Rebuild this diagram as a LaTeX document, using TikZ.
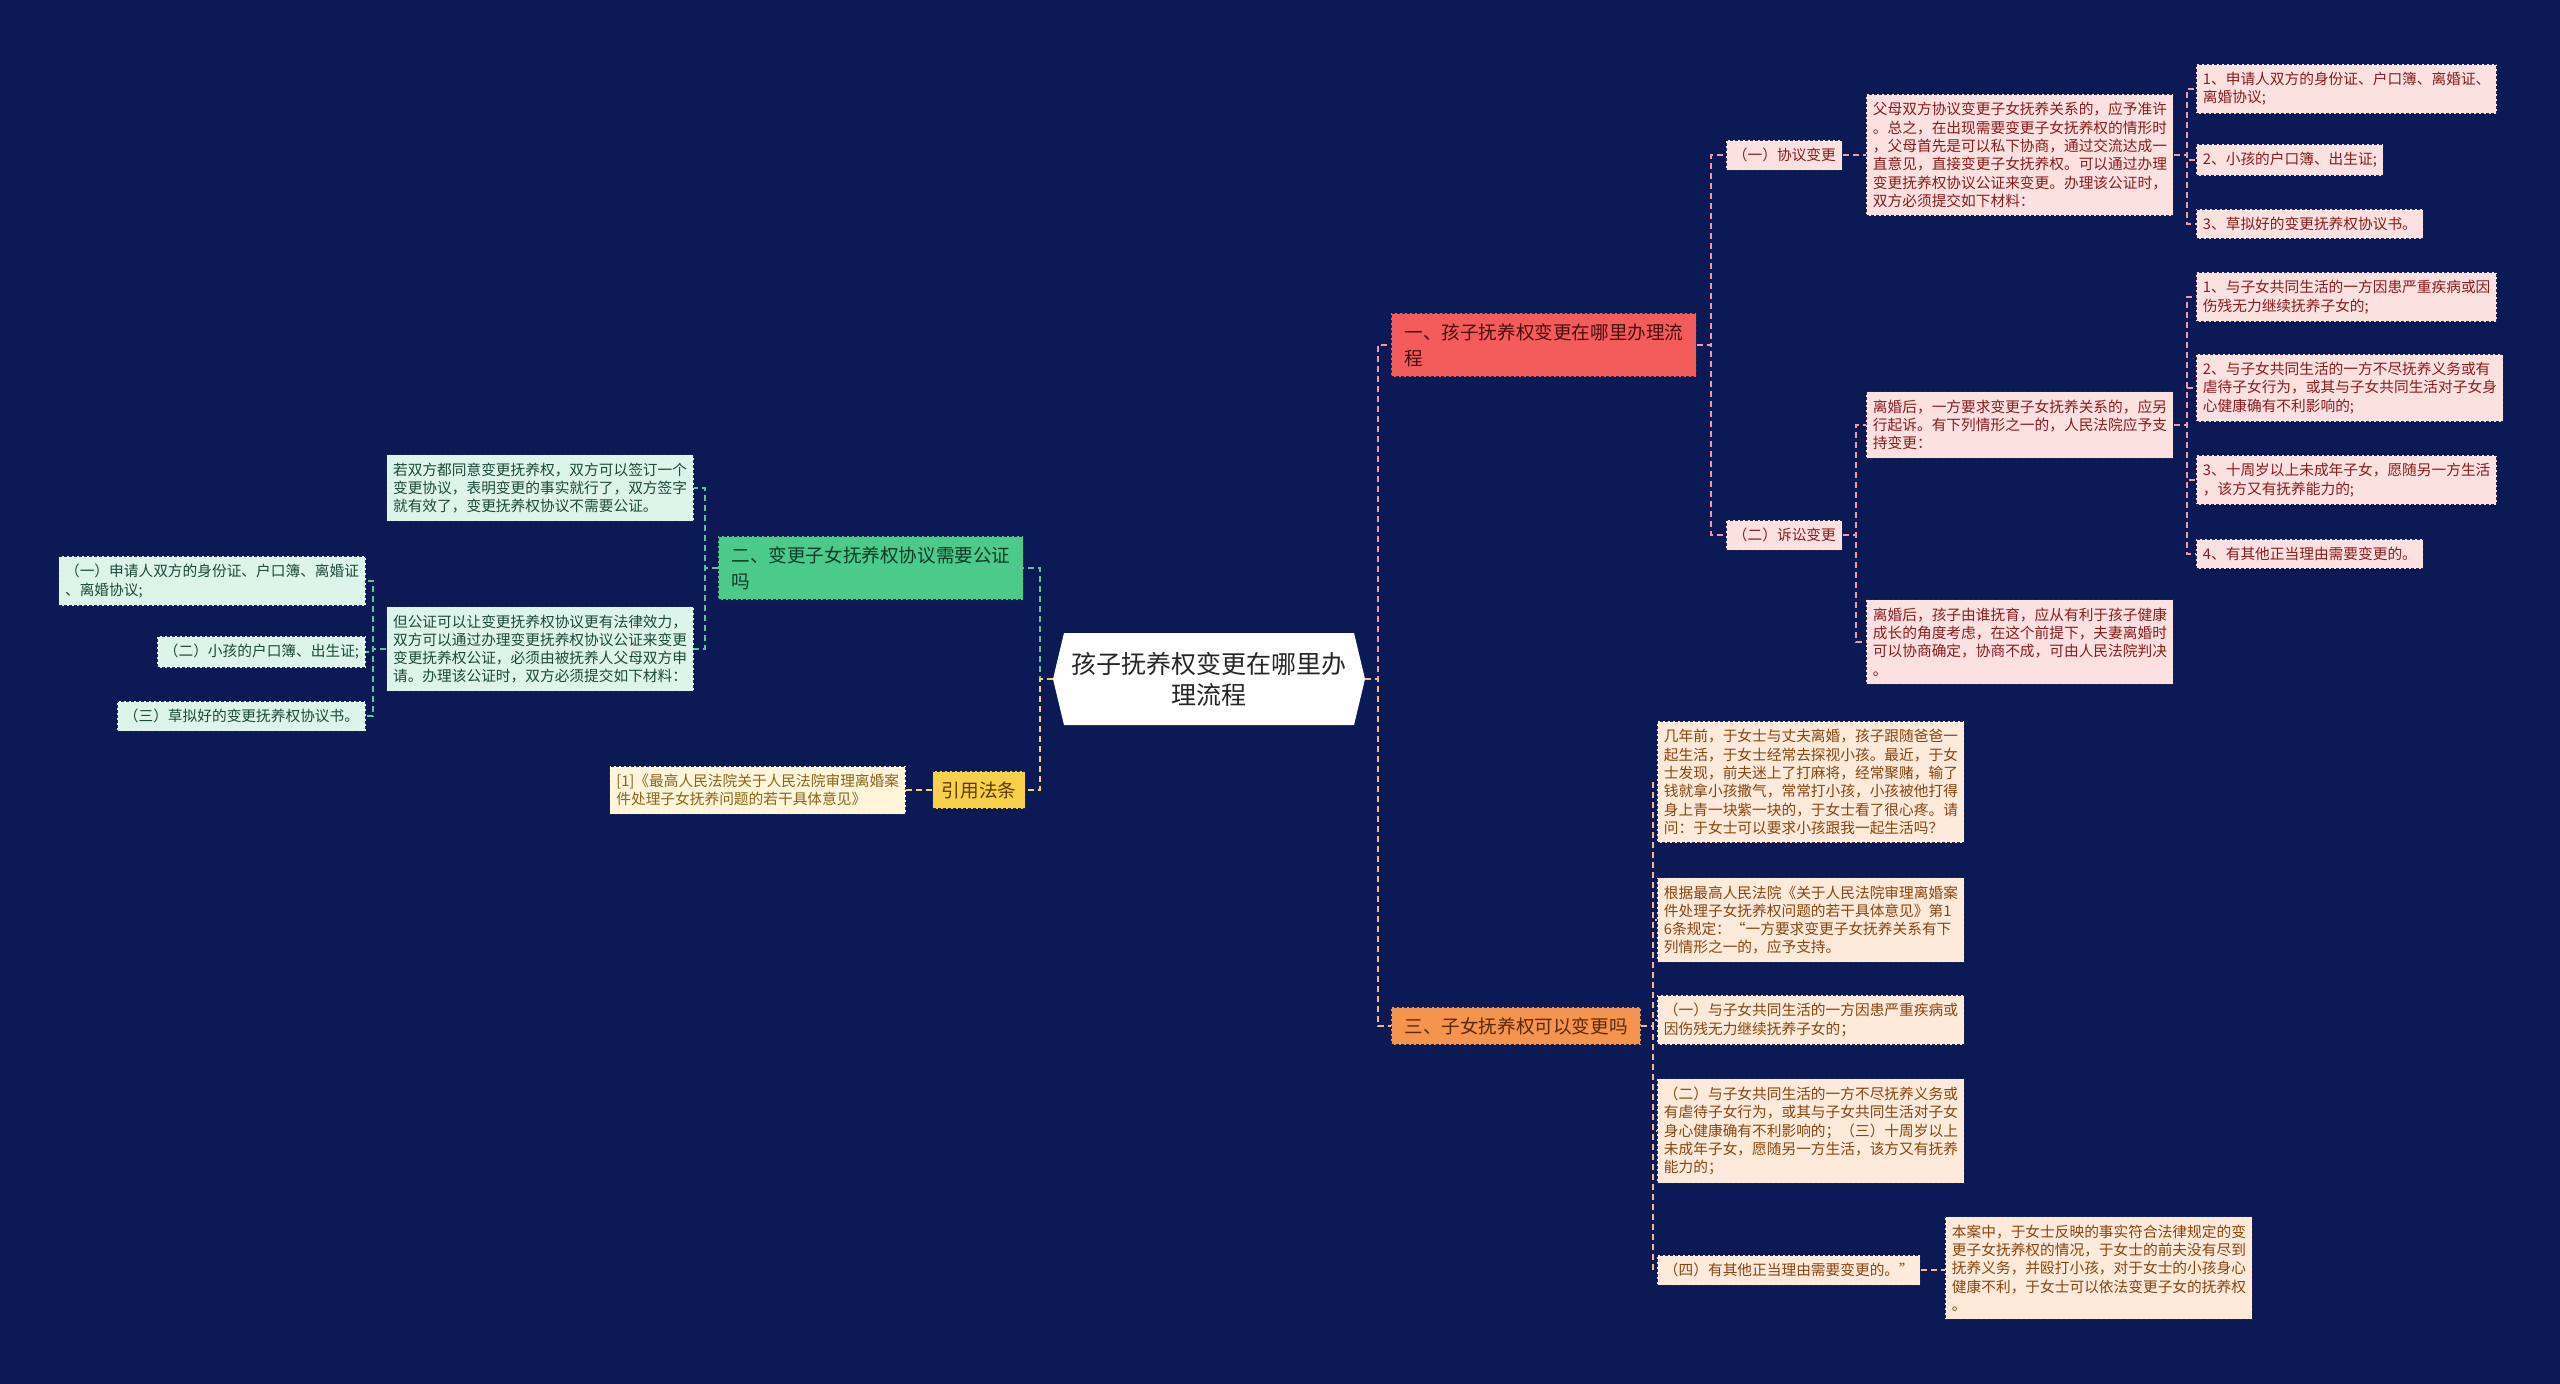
\documentclass[tikz,border=0pt]{standalone}
\usepackage{fontspec}
\setmainfont{Noto Sans CJK SC}
\definecolor{bg}{HTML}{0B1A55}
\definecolor{bd}{HTML}{1E2450}
\definecolor{redb}{HTML}{F45B5B}
\definecolor{greenb}{HTML}{4ACB8A}
\definecolor{orangeb}{HTML}{F4944E}
\definecolor{yellowb}{HTML}{F7D14A}
\definecolor{redbt}{HTML}{4A0E0E}
\definecolor{greenbt}{HTML}{0E3B26}
\definecolor{orangebt}{HTML}{5A2A0A}
\definecolor{yellowbt}{HTML}{5A3A00}
\definecolor{pinkf}{HTML}{FCE1E1}
\definecolor{mintf}{HTML}{DDF4EA}
\definecolor{peachf}{HTML}{FDEADB}
\definecolor{lyelf}{HTML}{FEF5DA}
\definecolor{pinkt}{HTML}{8B1C1C}
\definecolor{mintt}{HTML}{1C4B36}
\definecolor{peacht}{HTML}{8A4510}
\definecolor{lyelt}{HTML}{8A6418}
\definecolor{epink}{HTML}{F09AA6}
\definecolor{egreen}{HTML}{5BC49A}
\definecolor{epeach}{HTML}{F5B98A}
\definecolor{eyellow}{HTML}{F5D36A}
\tikzset{
  base/.style={draw=bd, line width=0.9pt, dash pattern=on 3pt off 2pt, align=left,
    inner xsep=6.5pt, inner ysep=8pt, font=\fontsize{14.7pt}{18.3pt}\selectfont},
  pinkleaf/.style={base, fill=pinkf, text=pinkt},
  mintleaf/.style={base, fill=mintf, text=mintt},
  peachleaf/.style={base, fill=peachf, text=peacht},
  yelleaf/.style={base, fill=lyelf, text=lyelt},
  branch/.style={draw=bd, line width=0.9pt, dash pattern=on 3pt off 2pt, align=left,
    inner xsep=13pt, inner ysep=10pt, font=\fontsize{18.6pt}{26pt}\selectfont},
  conn/.style={line width=1.6pt, dash pattern=on 6pt off 4pt},
  c1/.style={conn, draw=epink},
  c2/.style={conn, draw=egreen},
  c3/.style={conn, draw=epeach},
  c4/.style={conn, draw=eyellow},
}
\begin{document}
\begin{tikzpicture}[x=1pt,y=-1pt]
\useasboundingbox (0,0) rectangle (2560,1384);
\fill[bg] (0,0) rectangle (2560,1384);

% root
\fill[white] (1053,679) -- (1064,633) -- (1354,633) -- (1365,679) -- (1354,725) -- (1064,725) -- cycle;
\node (root) at (1209,679) [minimum width=312pt, minimum height=92pt, align=center,
  text=black!85, font=\fontsize{25pt}{31pt}\selectfont] {孩子抚养权变更在哪里办\\理流程};

% branches
\node[branch, fill=redb, text=redbt, anchor=west] (b1) at (1391,345) {一、孩子抚养权变更在哪里办理流\\程};
\node[branch, fill=greenb, text=greenbt, anchor=west] (b2) at (718,568) {二、变更子女抚养权协议需要公证\\吗};
\node[branch, fill=orangeb, text=orangebt, anchor=west] (b3) at (1391,1026) {三、子女抚养权可以变更吗};
\node[branch, fill=yellowb, text=yellowbt, inner xsep=9pt, inner ysep=10pt] (cite) at (979,790) {引用法条};

% branch 1 subtree
\node[pinkleaf, anchor=west] (xy) at (1726,155) {（一）协议变更};
\node[pinkleaf, anchor=west] (ss) at (1726,535) {（二）诉讼变更};
\node[pinkleaf, anchor=west] (fm) at (1866,155) {父母双方协议变更子女抚养关系的，应予准许\\。总之，在出现需要变更子女抚养权的情形时\\，父母首先是可以私下协商，通过交流达成一\\直意见，直接变更子女抚养权。可以通过办理\\变更抚养权协议公证来变更。办理该公证时，\\双方必须提交如下材料：};
\node[pinkleaf, anchor=west] (ra1) at (2196,89) {1、申请人双方的身份证、户口簿、离婚证、\\离婚协议;};
\node[pinkleaf, anchor=west] (ra2) at (2196,160) {2、小孩的户口簿、出生证;};
\node[pinkleaf, anchor=west] (ra3) at (2196,224) {3、草拟好的变更抚养权协议书。};
\node[pinkleaf, anchor=west] (lh1) at (1866,425) {离婚后，一方要求变更子女抚养关系的，应另\\行起诉。有下列情形之一的，人民法院应予支\\持变更：};
\node[pinkleaf, anchor=west] (lh2) at (1866,642) {离婚后，孩子由谁抚育，应从有利于孩子健康\\成长的角度考虑，在这个前提下，夫妻离婚时\\可以协商确定，协商不成，可由人民法院判决\\。};
\node[pinkleaf, anchor=west] (rb1) at (2196,297) {1、与子女共同生活的一方因患严重疾病或因\\伤残无力继续抚养子女的;};
\node[pinkleaf, anchor=west] (rb2) at (2196,388) {2、与子女共同生活的一方不尽抚养义务或有\\虐待子女行为，或其与子女共同生活对子女身\\心健康确有不利影响的;};
\node[pinkleaf, anchor=west] (rb3) at (2196,480) {3、十周岁以上未成年子女，愿随另一方生活\\，该方又有抚养能力的;};
\node[pinkleaf, anchor=west] (rb4) at (2196,554) {4、有其他正当理由需要变更的。};

% branch 3 subtree
\node[peachleaf, anchor=west] (p1) at (1657,782) {几年前，于女士与丈夫离婚，孩子跟随爸爸一\\起生活，于女士经常去探视小孩。最近，于女\\士发现，前夫迷上了打麻将，经常聚赌，输了\\钱就拿小孩撒气，常常打小孩，小孩被他打得\\身上青一块紫一块的，于女士看了很心疼。请\\问：于女士可以要求小孩跟我一起生活吗？};
\node[peachleaf, anchor=west] (p2) at (1657,920) {根据最高人民法院《关于人民法院审理离婚案\\件处理子女抚养权问题的若干具体意见》第1\\6条规定：“一方要求变更子女抚养关系有下\\列情形之一的，应予支持。};
\node[peachleaf, anchor=west] (p3) at (1657,1020) {（一）与子女共同生活的一方因患严重疾病或\\因伤残无力继续抚养子女的；};
\node[peachleaf, anchor=west] (p4) at (1657,1131) {（二）与子女共同生活的一方不尽抚养义务或\\有虐待子女行为，或其与子女共同生活对子女\\身心健康确有不利影响的；（三）十周岁以上\\未成年子女，愿随另一方生活，该方又有抚养\\能力的；};
\node[peachleaf, anchor=west] (p5) at (1657,1270) {（四）有其他正当理由需要变更的。”};
\node[peachleaf, anchor=west] (p6) at (1945,1268) {本案中，于女士反映的事实符合法律规定的变\\更子女抚养权的情况，于女士的前夫没有尽到\\抚养义务，并殴打小孩，对于女士的小孩身心\\健康不利，于女士可以依法变更子女的抚养权\\。};

% branch 2 subtree
\node[mintleaf, anchor=east] (g1) at (694,488) {若双方都同意变更抚养权，双方可以签订一个\\变更协议，表明变更的事实就行了，双方签字\\就有效了，变更抚养权协议不需要公证。};
\node[mintleaf, anchor=east] (g2) at (694,649) {但公证可以让变更抚养权协议更有法律效力，\\双方可以通过办理变更抚养权协议公证来变更\\变更抚养权公证，必须由被抚养人父母双方申\\请。办理该公证时，双方必须提交如下材料：};
\node[mintleaf, anchor=east] (gl1) at (366,581) {（一）申请人双方的身份证、户口簿、离婚证\\、离婚协议;};
\node[mintleaf, anchor=east] (gl2) at (366,652) {（二）小孩的户口簿、出生证;};
\node[mintleaf, anchor=east] (gl3) at (366,716) {（三）草拟好的变更抚养权协议书。};

% citation
\node[yelleaf, anchor=east] (ref) at (906,790) {[1]《最高人民法院关于人民法院审理离婚案\\件处理子女抚养问题的若干具体意见》};

% connectors
\draw[c1] (root.east) -- ++(13,0) |- (b1.west);
\draw[c3] (root.east) -- ++(13,0) |- (b3.west);
\draw[c2] (root.west) -- ++(-13,0) |- (b2.west);
\draw[c4] (root.west) -- ++(-13,0) |- (cite.east);

\draw[c1] (b1.east) -- ++(14,0) |- (xy.west);
\draw[c1] (b1.east) -- ++(14,0) |- (ss.west);
\draw[c1] (xy.east) -- (fm.west);
\draw[c1] (fm.east) -- ++(13,0) |- (ra1.west);
\draw[c1] (fm.east) -- ++(13,0) |- (ra2.west);
\draw[c1] (fm.east) -- ++(13,0) |- (ra3.west);
\draw[c1] (ss.east) -- ++(13,0) |- (lh1.west);
\draw[c1] (ss.east) -- ++(13,0) |- (lh2.west);
\draw[c1] (lh1.east) -- ++(13,0) |- (rb1.west);
\draw[c1] (lh1.east) -- ++(13,0) |- (rb2.west);
\draw[c1] (lh1.east) -- ++(13,0) |- (rb3.west);
\draw[c1] (lh1.east) -- ++(13,0) |- (rb4.west);

\draw[c3] (b3.east) -- ++(12,0) |- (p1.west);
\draw[c3] (b3.east) -- ++(12,0) |- (p2.west);
\draw[c3] (b3.east) -- ++(12,0) |- (p3.west);
\draw[c3] (b3.east) -- ++(12,0) |- (p4.west);
\draw[c3] (b3.east) -- ++(12,0) |- (p5.west);
\draw[c3] (p5.east) -- (p6.west |- p5.east);

\draw[c2] (b2.west) -- ++(-13,0) |- (g1.east);
\draw[c2] (b2.west) -- ++(-13,0) |- (g2.east);
\draw[c2] (g2.west) -- ++(-13,0) |- (gl1.east);
\draw[c2] (g2.west) -- ++(-13,0) |- (gl2.east);
\draw[c2] (g2.west) -- ++(-13,0) |- (gl3.east);

\draw[c4] (cite.west) -- (ref.east);
\end{tikzpicture}
\end{document}
